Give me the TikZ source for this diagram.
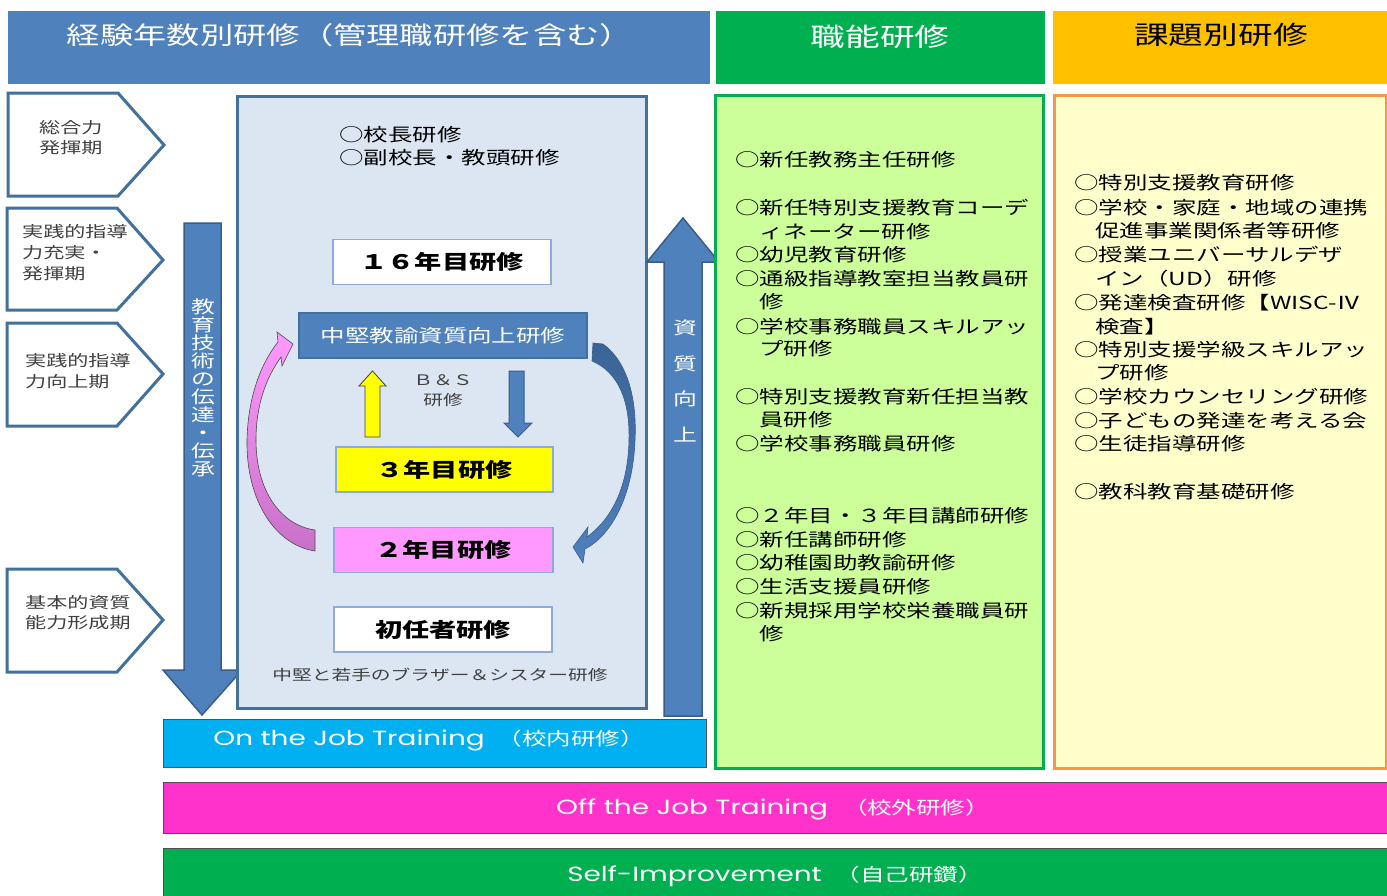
\documentclass[tikz,border=0pt]{standalone}
\usepackage{fontspec}
\setmainfont{Noto Sans CJK JP}[FakeStretch=1.36]
\newfontfamily\latinf{Poppins}[FakeStretch=1.36]
\definecolor{hblue}{HTML}{4F81BD}
\definecolor{dblue}{HTML}{41719C}
\definecolor{arrowedge}{HTML}{385D8A}
\definecolor{lbox}{HTML}{DCE6F2}
\definecolor{ggreen}{HTML}{00B050}
\definecolor{lgreen}{HTML}{CCFF99}
\definecolor{hor}{HTML}{FFC000}
\definecolor{lor}{HTML}{FFFFCC}
\definecolor{oborder}{HTML}{F79646}
\definecolor{ojtc}{HTML}{00B0F0}
\definecolor{offc}{HTML}{FF33CC}
\definecolor{pinkbox}{HTML}{FF99FF}
\definecolor{yel}{HTML}{FFFF00}
\definecolor{gtext}{HTML}{404040}
\definecolor{boxedge}{HTML}{8EA9DB}
\definecolor{baredge}{HTML}{505050}
\definecolor{pinkL}{HTML}{FF99FF}
\definecolor{pinkD}{HTML}{C870C8}
\definecolor{blueD}{HTML}{3B6496}
\begin{document}
\begin{tikzpicture}[x=1pt,y=-1pt,
  lst/.style={inner sep=0pt, anchor=west, text height=15.3pt, text depth=1.8pt, font=\fontsize{18}{18}\selectfont, text=black},
  pent/.style={fill=white, draw=dblue, line width=3pt, line join=miter},
  penttxt/.style={inner sep=0pt, anchor=west, text height=13.2pt, text depth=1.5pt, font=\fontsize{15.5}{15.5}\selectfont, text=gtext},
  panel/.style={anchor=north west, inner sep=0pt},
  yearbox/.style={draw=boxedge, line width=1.2pt, inner sep=0pt, text height=17pt, text depth=2pt, font=\bfseries\fontsize{20}{20}\selectfont, text=black, minimum height=45pt},
  bar/.style={anchor=north west, draw=baredge, line width=1pt, inner sep=0pt},
  bartxt/.style={inner sep=0pt, text=white, text height=15.3pt, text depth=1.8pt, font=\fontsize{18}{18}\selectfont},
  bigarrow/.style={fill=hblue, draw=arrowedge, line width=1.5pt, line join=miter},
  vtxt/.style={inner sep=0pt, text=white, align=center, font=\fontsize{17.5}{18}\selectfont},
  hdrtxt/.style={inner sep=0pt, text height=21pt, text depth=2.5pt},
]
\useasboundingbox (0,0) rectangle (1387,895);
\fill[white] (0,0) rectangle (1387,895);

% headers
\node[panel, fill=hblue, minimum width=702pt, minimum height=73pt] (h1) at (8,11) {};
\node[panel, fill=ggreen, minimum width=329pt, minimum height=73pt] (h2) at (716,11) {};
\node[panel, fill=hor, minimum width=340pt, minimum height=73pt] (h3) at (1053,11) {};
\node[hdrtxt, text=white, font=\fontsize{24.5}{24.5}\selectfont] (t1) at (350,35) {経験年数別研修（管理職研修を含む）};
\node[hdrtxt, text=white, font=\fontsize{25.5}{25.5}\selectfont] (t2) at (880,37) {職能研修};
\node[hdrtxt, text=black, font=\fontsize{25.5}{25.5}\selectfont] (t3) at (1221,35) {課題別研修};

% pentagons (stages)
\draw[pent] (8,93) -- (118,93) -- (164,145) -- (118,196) -- (8,196) -- cycle;
\draw[pent] (7,208) -- (117,208) -- (163,260) -- (117,310) -- (7,310) -- cycle;
\draw[pent] (7,323) -- (117,323) -- (163,374) -- (117,426) -- (7,426) -- cycle;
\draw[pent] (7,569) -- (117,569) -- (163,620) -- (117,672) -- (7,672) -- cycle;
\node[penttxt] (p1a) at (39,128) {総合力};
\node[penttxt] (p1b) at (39,148) {発揮期};
\node[penttxt] (p2a) at (22,232) {実践的指導};
\node[penttxt] (p2b) at (22,253) {力充実・};
\node[penttxt] (p2c) at (22,274) {発揮期};
\node[penttxt] (p3a) at (25,361) {実践的指導};
\node[penttxt] (p3b) at (25,382) {力向上期};
\node[penttxt] (p4a) at (25,603) {基本的資質};
\node[penttxt] (p4b) at (25,623) {能力形成期};

% down arrow
\draw[bigarrow] (184,223) -- (221,223) -- (221,670) -- (242,670) -- (202,715) -- (163,670) -- (184,670) -- cycle;
\node[vtxt] (vt1) at (203,388) {教\\育\\技\\術\\の\\伝\\達\\・\\伝\\承};

% big box
\node[panel, fill=lbox, draw=dblue, line width=3pt, minimum width=409pt, minimum height=612pt] (big) at (236,95) {};
\node[lst] (k1) at (339,135) {○校長研修};
\node[lst] (k2) at (339,158) {○副校長・教頭研修};

\node[yearbox, fill=white, minimum width=218pt] (y16) at (442,262) {１６年目研修};
\node[yearbox, fill=hblue, draw=dblue, text=white, font=\fontsize{18}{18}\selectfont, text height=15.3pt, text depth=1.8pt, minimum width=288pt] (chu) at (443,335.5) {中堅教諭資質向上研修};
\node[yearbox, fill=yel, minimum width=217pt] (y3) at (444.5,469.5) {３年目研修};
\node[yearbox, fill=pinkbox, minimum width=219pt] (y2) at (443.5,550) {２年目研修};
\node[yearbox, fill=white, minimum width=218pt] (y1) at (443,629.5) {初任者研修};

% small arrows
\draw[fill=yel, draw=gtext, line width=0.8pt, line join=miter] (365,437) -- (365,386) -- (359,386) -- (372.5,371) -- (386,386) -- (380,386) -- (380,437) -- cycle;
\draw[fill=hblue, draw=arrowedge, line width=1pt, line join=miter] (509,371) -- (524,371) -- (524,423) -- (532,423) -- (518,437) -- (504,423) -- (509,423) -- cycle;
\node[inner sep=0pt, font=\fontsize{14.5}{20}\selectfont, text=gtext, align=center] (bs) at (443,391) {Ｂ＆Ｓ\\研修};
\node[inner sep=0pt, font=\fontsize{14.5}{14.5}\selectfont, text=gtext] (bro) at (440,675) {中堅と若手のブラザー＆シスター研修};

% curved arrows
\shade[top color=pinkL, bottom color=pinkD, draw=black!70, line width=0.6pt, line join=miter]
  (315,551) .. controls (275,545) and (246,500) .. (247,440)
  .. controls (248,395) and (262,362) .. (278,342)
  -- (277,332) -- (293,344) -- (282,366) -- (281,357)
  .. controls (266,378) and (256,405) .. (256,440)
  .. controls (256,490) and (280,525) .. (315,530) -- cycle;
\shade[top color=blueD, bottom color=hblue, draw=arrowedge, line width=0.6pt, line join=miter]
  (593,343) -- (603,344)
  .. controls (628,362) and (637,400) .. (635,440)
  .. controls (633,495) and (612,535) .. (585,549)
  -- (583,563) -- (573,547) -- (588,527) -- (587,537)
  .. controls (610,520) and (628,490) .. (629,440)
  .. controls (630,400) and (618,372) .. (592,361) -- cycle;

% up arrow
\draw[bigarrow] (664,716) -- (664,262) -- (647,262) -- (683,218) -- (719,262) -- (702,262) -- (702,716) -- cycle;
\node[vtxt, font=\fontsize{17.5}{35.7}\selectfont] (vt2) at (685,381) {資\\質\\向\\上};

% green box
\node[panel, fill=lgreen, draw=ggreen, line width=3pt, minimum width=328pt, minimum height=673pt] (gbox) at (714,94) {};
\foreach \x/\y/\t in {735/160/○新任教務主任研修, 735/208/○新任特別支援教育コーデ, 759/232/ィネーター研修, 735/255/○幼児教育研修, 735/279/○通級指導教室担当教員研, 759/302/修, 735/327/○学校事務職員スキルアッ, 759/349/プ研修, 735/397/○特別支援教育新任担当教, 759/420/員研修, 735/444/○学校事務職員研修, 735/516/○２年目・３年目講師研修, 735/540/○新任講師研修, 735/563/○幼稚園助教諭研修, 735/587/○生活支援員研修, 735/611/○新規採用学校栄養職員研, 759/634/修}
  \node[lst] (gl\y) at (\x,\y) {\t};

% orange box
\node[panel, fill=lor, draw=oborder, line width=3pt, minimum width=332pt, minimum height=673pt] (obox) at (1053,94) {};
\foreach \x/\y/\t in {1074/183/○特別支援教育研修, 1074/208/○学校・家庭・地域の連携, 1095/231/促進事業関係者等研修, 1074/255/○授業ユニバーサルデザ, 1095/279/イン（UD）研修, 1074/303/○発達検査研修【WISC-Ⅳ, 1095/327/検査】, 1074/350/○特別支援学級スキルアッ, 1095/373/プ研修, 1074/397/○学校カウンセリング研修, 1074/421/○子どもの発達を考える会, 1074/444/○生徒指導研修, 1074/492/○教科教育基礎研修}
  \node[lst] (ol\y) at (\x,\y) {\t};

% bars
\node[bar, fill=ojtc, minimum width=543pt, minimum height=48pt] (ojt) at (163,719) {};
\node[bar, fill=offc, minimum width=1240pt, minimum height=51pt] (off) at (163,782) {};
\node[bar, fill=ggreen, minimum width=1240pt, minimum height=60pt] (self) at (163,848) {};
\node[bartxt] (ojtt) at (429,739) {{\latinf\fontsize{20.5}{20.5}\selectfont On the Job Training}\hspace{13pt}（校内研修）};
\node[bartxt] (offt) at (773,808) {{\latinf\fontsize{20.5}{20.5}\selectfont Off the Job Training}\hspace{15pt}（校外研修）};
\node[bartxt] (selft) at (775,875) {{\latinf\fontsize{20.5}{20.5}\selectfont Self-Improvement}\hspace{14pt}（自己研鑽）};
\end{tikzpicture}
\end{document}
